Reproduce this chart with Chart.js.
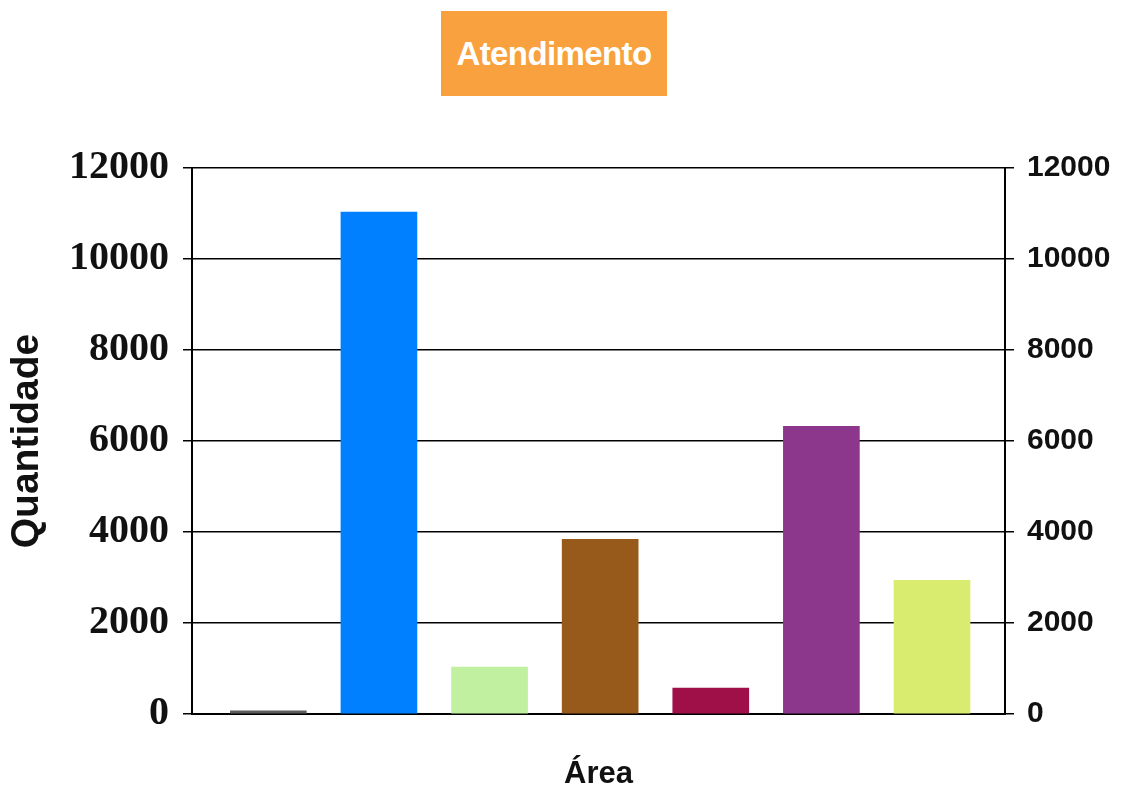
<!DOCTYPE html>
<html>
<head>
<meta charset="utf-8">
<script src="https://cdn.jsdelivr.net/npm/chart.js@4"></script>
<style>
  body { margin: 0; background: #fff; }
  #wrap { position: relative; width: 1125px; height: 789px; }
  #title {
    position: absolute; left: 441px; top: 11px; width: 226px; height: 85px;
    background: #f9a13e; color: #fff; font: bold 33px "Liberation Sans", Arial, sans-serif;
    display: flex; align-items: center; justify-content: center; letter-spacing: -0.6px;
  }
</style>
</head>
<body>
<div id="wrap">
  <canvas id="chart" width="1125" height="789"></canvas>
  <div id="title">Atendimento</div>
</div>
<script>
// the picture has no category labels, so bars are placed by position 1..7
const positions = [1, 2, 3, 4, 5, 6, 7];
const values = [70, 11030, 1030, 3840, 570, 6320, 2940];
const colors = ["#5e5e5e", "#0080ff", "#c0f0a0", "#985a1a", "#a01048", "#8c368c", "#d9ec70"];
const yTicks = [0, 2000, 4000, 6000, 8000, 10000, 12000];

const ctx = document.getElementById('chart').getContext('2d');
const chart = new Chart(ctx, {
    type: 'bar',
    data: {
        datasets: [{
            data: positions.map((p, i) => ({ x: p, y: values[i] })),
            backgroundColor: colors,
            barThickness: 76
        }]
    },
    options: {
        responsive: false,
        animation: false,
        layout: { padding: { top: 168, bottom: 0, left: 0, right: 0 } },
        plugins: { legend: { display: false }, tooltip: { enabled: false } },
        scales: {
            x: {
                type: 'linear',
                min: 0.31, max: 7.66,
                offset: false,
                grid: { display: false },
                border: { display: true, color: '#000', width: 2 },
                ticks: { display: false },
                title: {
                    display: true, text: 'Área', color: '#111',
                    font: { family: 'Liberation Sans', size: 31, weight: 'bold' },
                    padding: { top: 0, bottom: -4 }
                },
                afterFit: (s) => { s.height = 75; }
            },
            y: {
                position: 'left',
                min: 0, max: 12000,
                afterBuildTicks: (s) => { s.ticks = yTicks.map(v => ({ value: v })); },
                grid: { color: '#000', lineWidth: 1.5, tickLength: 9 },
                border: { display: true, color: '#000', width: 2 },
                ticks: {
                    color: '#111', padding: 14,
                    callback: (v) => String(v),
                    font: { family: 'Liberation Serif', size: 40, weight: 'bold' }
                },
                title: {
                    display: true, text: 'Quantidade', color: '#111',
                    font: { family: 'Liberation Sans', size: 39, weight: 'bold' },
                    padding: { bottom: 0 }
                },
                afterFit: (s) => { s.width = 192; }
            },
            y2: {
                position: 'right',
                min: 0, max: 12000,
                afterBuildTicks: (s) => { s.ticks = yTicks.map(v => ({ value: v })); },
                grid: { drawOnChartArea: false, color: '#000', lineWidth: 1.5, tickLength: 9 },
                border: { display: true, color: '#000', width: 2 },
                ticks: {
                    color: '#111', padding: 13,
                    callback: (v) => String(v),
                    font: { family: 'Liberation Sans', size: 30, weight: 'bold' }
                },
                afterFit: (s) => { s.width = 120; }
            }
        }
    }
});
</script>
</body>
</html>
